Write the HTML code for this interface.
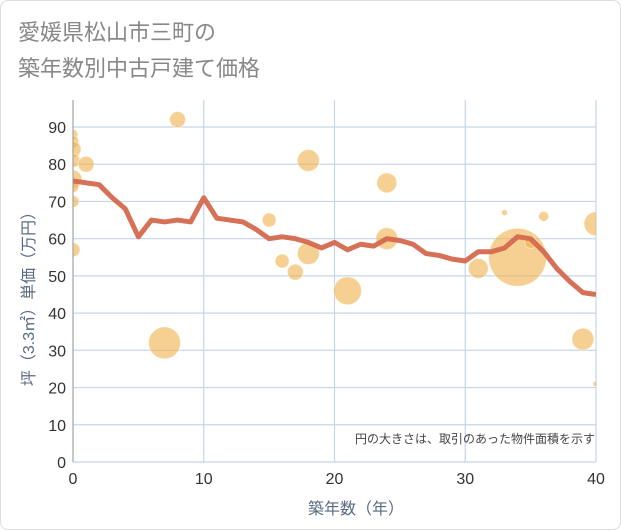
<!DOCTYPE html>
<html><head><meta charset="utf-8"><style>
body{margin:0;background:#fff;font-family:"Liberation Sans","Noto Sans CJK JP",sans-serif}
.frame{position:absolute;left:0;top:0;width:619px;height:528px;border:1px solid #ddd;border-radius:8px}
</style></head><body>
<div class="frame"></div>
<svg id="c" width="621" height="530" style="position:absolute;left:0;top:0">
<defs><clipPath id="pc"><rect x="73" y="100" width="523" height="362"/></clipPath></defs>
<text x="18" y="40" font-size="22" fill="#888" font-family="Liberation Sans, Noto Sans CJK JP, sans-serif">愛媛県松山市三町の</text>
<text x="18" y="76" font-size="22" fill="#888" font-family="Liberation Sans, Noto Sans CJK JP, sans-serif">築年数別中古戸建て価格</text>
<g id="grid"></g><g id="bubbles" clip-path="url(#pc)"></g><g id="line" clip-path="url(#pc)"></g><g id="axes"></g>
<text x="595" y="443" font-size="12" fill="#444" text-anchor="end" font-family="Liberation Sans, Noto Sans CJK JP, sans-serif">円の大きさは、取引のあった物件面積を示す</text>
<text x="356" y="514" font-size="16" fill="#5a6b80" text-anchor="middle" font-family="Liberation Sans, Noto Sans CJK JP, sans-serif">築年数（年）</text>
<text transform="translate(34,295) rotate(-90)" font-size="16" fill="#5a6b80" text-anchor="middle" font-family="Liberation Sans, Noto Sans CJK JP, sans-serif">坪（3.3㎡）単価（万円）</text>
</svg>
<script>
const xTicks=[0,10,20,30,40];
const yTicks=[0,10,20,30,40,50,60,70,80,90];
const years=[0,1,2,3,4,5,6,7,8,9,10,11,12,13,14,15,16,17,18,19,20,21,22,23,24,25,26,27,28,29,30,31,32,33,34,35,36,37,38,39,40];
const avgPrice=[75.5,75,74.5,71,68,60.5,65,64.5,65,64.5,71,65.5,65,64.5,62.5,60,60.5,60,59,57.5,59,57,58.5,58,60,59.5,58.5,56,55.5,54.5,54,56.5,56.5,57.5,60.5,60,56.5,52,48.5,45.5,45];
const bubbleAge=[0,0,0,0,1,0,0,0,0,8,7,15,16,17,18,18,21,24,24,31,33,34,35,36,39,40,40];
const bubblePrice=[88,86,84,81,80,76,74,70,57,92,32,65,54,51,81,56,46,75,60,52,67,55,59,66,33,64,21];
const bubbleSize=[5,6,8,7,8,9,6,6,7,8,16,7,7,8,11,11,14,10,11,10,3,29,6,5,11,12,3];
const X=v=>73+v*(523/40), Y=v=>462-v*(335/90);
const NS="http://www.w3.org/2000/svg";
function mk(t,a,p){const e=document.createElementNS(NS,t);for(const k in a)e.setAttribute(k,a[k]);p.appendChild(e);return e;}
const grid=document.getElementById('grid'),axes=document.getElementById('axes');
yTicks.forEach(v=>{const l=mk('line',{x1:73,x2:596,y1:Y(v),y2:Y(v),stroke:'#c5d5ea','stroke-width':1.2},grid);


const t=mk('text',{x:66,y:Y(v)+6,'font-size':16,fill:'#333','text-anchor':'end'},axes);t.textContent=v;

});
xTicks.forEach(v=>{const l=mk('line',{x1:X(v),x2:X(v),y1:100,y2:462,stroke:'#c5d5ea','stroke-width':1.2},grid);


const t=mk('text',{x:X(v),y:484,'font-size':16,fill:'#333','text-anchor':'middle'},axes);t.textContent=v;

});
const ax=mk('line',{x1:73,x2:73,y1:100,y2:462,stroke:'#999'},axes);


const bg=document.getElementById('bubbles');
bubbleAge.forEach((a,i)=>{const c=mk('circle',{cx:X(a),cy:Y(bubblePrice[i]),r:bubbleSize[i],fill:'#f0b04a','fill-opacity':0.6,stroke:'#fff','stroke-opacity':0.5},bg);

});
const p=mk('polyline',{points:years.map((y,i)=>X(y)+','+Y(avgPrice[i])).join(' '),fill:'none',stroke:'#d4694f','stroke-width':5,'stroke-linejoin':'round','stroke-opacity':0.95},document.getElementById('line'));


</script>
</body></html>
